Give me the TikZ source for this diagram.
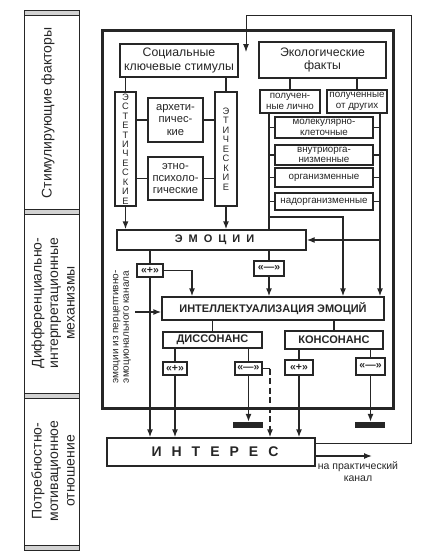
\documentclass[tikz,border=0pt]{standalone}
\usepackage{fontspec}
\setmainfont{Liberation Sans}
\usetikzlibrary{arrows.meta}
\definecolor{ink}{gray}{0.15}
\begin{document}
\begin{tikzpicture}[x=1pt,y=-1pt,color=ink,
  bx/.style={draw, line width=1.3pt, inner sep=0pt, align=center, fill=white},
  bxb/.style={bx, line width=1.7pt, minimum width=98pt, font=\fontsize{9.8}{10.5}\selectfont},
  f12/.style={font=\fontsize{12.3}{13.5}\selectfont},
  f11/.style={font=\fontsize{11.2}{12.3}\selectfont},
  fsm/.style={font=\fontsize{9.8}{10.8}\selectfont},
  fvert/.style={font=\fontsize{9.3}{9.45}\selectfont},
  fbold/.style={font=\bfseries\fontsize{11}{12}\selectfont},
  fq/.style={font=\bfseries\fontsize{10.5}{11}\selectfont},
  fside/.style={rotate=90, align=center, font=\fontsize{14}{16.5}\selectfont},
  ln/.style={line width=1.3pt},
  ar/.style={line width=1.3pt,-{Latex[length=8pt,width=6pt]}},
  barn/.style={fill=ink, draw=none, minimum width=30pt, minimum height=6pt, inner sep=0pt},
]
\useasboundingbox (0,0) rectangle (428,552);

% left strip
\draw[line width=1pt] (24,10) rectangle (79,550);
\foreach \yy in {10,209,393,545} \draw[line width=0.8pt, fill=gray!35] (24,\yy) rectangle (79,\yy+5);
\node[fside] (s1) at (48,113) {Стимулирующие факторы};
\node[fside] (s2) at (53,303) {Дифференциально-\\интерпретационные\\механизмы};
\node[fside] (s3) at (53,471) {Потребностно-\\мотивационное\\отношение};

% frame
\draw[line width=3pt] (102,30) rectangle (393,408);

% top boxes
\node[bx, f12, minimum width=118pt, minimum height=33pt] (soc) at (179,60.5) {Социальные\\ключевые стимулы};
\node[bx, f12, minimum width=127pt, minimum height=36pt] (eco) at (322.5,60) {Экологические\\факты};
\node[bx, fvert, minimum width=21pt, minimum height=114pt] (est) at (125.5,149) {Э\\С\\Т\\Е\\Т\\И\\Ч\\Е\\С\\К\\И\\Е};
\node[bx, fvert, minimum width=22pt, minimum height=114pt] (eti) at (226,149) {Э\\Т\\И\\Ч\\Е\\С\\К\\И\\Е};
\node[bx, f11, minimum width=55pt, minimum height=44pt] (arh) at (175.5,120) {архети-\\пичес-\\кие};
\node[bx, f11, minimum width=55pt, minimum height=43pt] (etn) at (175.5,178.5) {этно-\\психоло-\\гические};
\node[bx, fsm, minimum width=60pt, minimum height=23pt] (pl) at (290,101.5) {получен-\\ные лично};
\node[bx, fsm, minimum width=60pt, minimum height=23pt] (pd) at (357,101.5) {полученные\\от других};
\node[bxb, minimum height=21pt] (mol) at (324,127.5) {молекулярно-\\клеточные};
\node[bxb, minimum height=20pt] (vnu) at (324,155) {внутриорга-\\низменные};
\node[bxb, minimum height=19pt] (org) at (324,177.5) {организменные};
\node[bxb, minimum height=17pt] (nad) at (324,201.5) {надорганизменные};

% middle
\node[bx, fbold, minimum width=189pt, minimum height=20pt] (emo) at (211.5,240) {\hspace{6pt}Э\hspace{6pt}М\hspace{6pt}О\hspace{6pt}Ц\hspace{6pt}И\hspace{6pt}И};
\node[bx, fq, minimum width=26pt, minimum height=13pt] (ep) at (150,270.5) {«+»};
\node[bx, fq, minimum width=30pt, minimum height=15pt] (em) at (269,268.5) {«—»};
\node[bx, fbold, minimum width=222pt, minimum height=23pt] (int) at (273,308.5) {ИНТЕЛЛЕКТУАЛИЗАЦИЯ ЭМОЦИЙ};
\node[bx, fbold, minimum width=99pt, minimum height=16pt] (dis) at (212.5,340) {ДИССОНАНС};
\node[bx, fbold, minimum width=98pt, minimum height=18pt] (kon) at (334,340) {КОНСОНАНС};
\node[bx, fq, minimum width=24pt, minimum height=13pt] (dp) at (175,368.5) {«+»};
\node[bx, fq, minimum width=27pt, minimum height=13pt] (dm) at (248.5,368.5) {«—»};
\node[bx, fq, minimum width=28pt, minimum height=15pt] (kp) at (299,367.5) {«+»};
\node[bx, fq, minimum width=29pt, minimum height=17pt] (km) at (370.5,366.5) {«—»};
\node[rotate=90, align=center, font=\fontsize{10}{10.5}\selectfont] (perc) at (122,327) {эмоции из перцептивно-\\эмоционального канала};

% bottom
\node[bx, font=\bfseries\fontsize{14}{16}\selectfont, minimum width=208pt, minimum height=28pt] (intr) at (211,452) {\hspace{8pt}И\hspace{10pt}Н\hspace{10pt}Т\hspace{10pt}Е\hspace{10pt}Р\hspace{10pt}Е\hspace{10pt}С};
\node[barn] (bar1) at (248,425) {};
\node[barn] (bar2) at (370,425) {};
\node[align=center, font=\fontsize{10.5}{12}\selectfont] (prak) at (358,472) {на практический\\канал};

% coordinates
\coordinate (lx) at (269,0);
\coordinate (rx) at (380,0);
\coordinate (b1) at (343,217);
\coordinate (c2) at (192,0);
\coordinate (pe) at (135,312);
\coordinate (dc) at (270,0);
\coordinate (f1) at (411,443);
\coordinate (f2) at (411,15);
\coordinate (f3) at (246,15);
\coordinate (f4) at (246,52);
\coordinate (pr) at (372,456);

% connectors top
\draw[ln] (soc.south -| est) -- (est.north);
\draw[ln] (soc.south -| eti) -- (eti.north);
\draw[ln] (est.east |- arh) -- (arh.west);
\draw[ln] (arh.east) -- (eti.west |- arh);
\draw[ln] (est.east |- etn) -- (etn.west);
\draw[ln] (etn.east) -- (eti.west |- etn);
\draw[ar] (est.south) -- (est.south |- emo.north);
\draw[ar] (eti.south) -- (eti.south |- emo.north);
\draw[ln] (eco.south -| pl) -- (pl.north);
\draw[ln] (eco.south -| pd) -- (pd.north);
\draw[ln] (pl.south -| lx) -- (lx |- emo.north);
\draw[ar] (pd.south -| rx) -- (rx |- int.north);
\foreach \n in {mol,vnu,org,nad} {
  \draw[ln] (lx |- \n) -- (\n.west);
  \draw[ln] (\n.east) -- (rx |- \n);
}
\draw[ar] (lx |- b1) -- (b1) -- (b1 |- int.north);
\draw[ar] (rx |- emo) -- (emo.east);

% connectors middle
\draw[ln] (emo.south -| ep) -- (ep.north);
\draw[ar] (ep.south) -- (ep.south |- intr.north);
\draw[ar] (ep.east) -- (c2 |- ep) -- (c2 |- int.north);
\draw[ln] (emo.south -| em) -- (em.north);
\draw[ar] (em.south) -- (em.south |- int.north);
\draw[ar] (pe) -- (pe -| int.west);
\draw[ln] (int.south -| dis) -- (dis.north);
\draw[ln] (int.south -| kon) -- (kon.north);
\draw[ln] (dis.south -| dp) -- (dp.north);
\draw[ln] (dis.south -| dm) -- (dm.north);
\draw[ln] (kon.south -| kp) -- (kp.north);
\draw[ln] (kon.south -| km) -- (km.north);

% connectors bottom
\draw[ar] (dp.south) -- (dp.south |- intr.north);
\draw[ar] (dm.south) -- (dm.south |- bar1.north);
\draw[ln] (dm.east) -- (dc |- dm);
\draw[ar, dash pattern=on 6pt off 3.5pt] (dc |- dm) -- (dc |- intr.north);
\draw[ar] (kp.south) -- (kp.south |- intr.north);
\draw[ar] (km.south) -- (km.south |- bar2.north);
\draw[ar, line width=1pt] (intr.east |- f1) -- (f1) -- (f2) -- (f3) -- (f4);
\draw[ar] (intr.east |- pr) -- (pr);
\end{tikzpicture}
\end{document}
